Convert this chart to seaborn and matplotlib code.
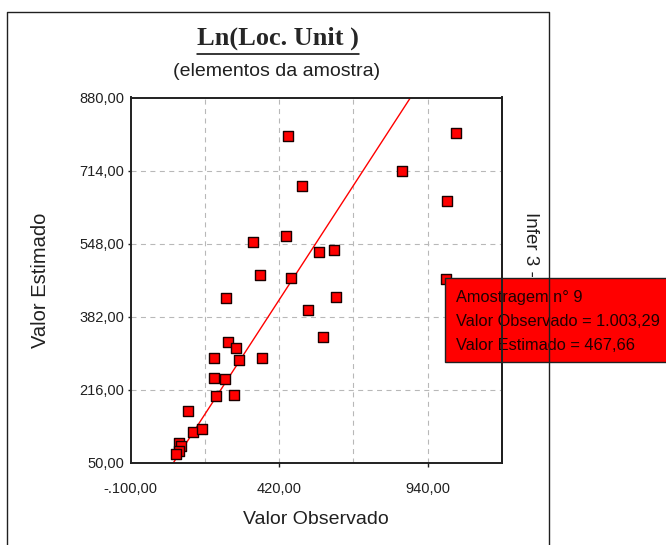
import matplotlib
matplotlib.use("Agg")
import matplotlib.pyplot as plt
from matplotlib.lines import Line2D
from matplotlib.markers import MarkerStyle
from matplotlib.patches import Rectangle
import pandas as pd
import seaborn as sns

# valores (observado x estimado)
observado = [452.7, 1040.6, 849.8, 499.4, 1007.9, 329.7, 443.2, 558.1, 610.8, 353.3,
             463.2, 1003.29, 617.8, 234.9, 521.9, 573.2, 241.9, 267.5, 193.7, 280.5,
             358.9, 193.7, 231.3, 198.7, 263.0, 102.4, 120.0, 151.6, 70.8, 77.8, 69.7, 60.2]
estimado = [791.7, 798.6, 712.6, 678.4, 644.2, 550.7, 566.0, 527.9, 534.1, 476.4,
            469.6, 467.66, 427.6, 424.6, 397.3, 335.0, 325.0, 311.3, 287.2, 284.0,
            287.2, 242.9, 239.3, 201.9, 205.1, 167.7, 119.1, 126.6, 95.6, 87.9, 76.5, 69.0]

x_grid = [160, 420, 680, 940]
x_ticks = [-100, 420, 940]
x_tick_labels = ["-.100,00", "420,00", "940,00"]
y_ticks = [50, 216, 382, 548, 714, 880]
y_tick_labels = ["50,00", "216,00", "382,00", "548,00", "714,00", "880,00"]
linha_ideal = [50, 880]

tooltip = ["Amostragem n\u00b0 9", "Valor Observado = 1.003,29", "Valor Estimado = 467,66"]

sns.set_style("white")
plt.rcParams["font.family"] = ["Liberation Sans", "DejaVu Sans"]

W, H = 666, 545
fig = plt.figure(figsize=(W / 100, H / 100), dpi=100)
ax = fig.add_axes([130.5 / W, 1 - 462.8 / H, 371.5 / W, 365.3 / H])

df = pd.DataFrame({"observado": observado, "estimado": estimado})

# grade tracejada
for gx in x_grid:
    ax.axvline(gx, color="#b8b8b8", lw=0.8, ls=(0, (4.5, 4)), zorder=0)
for gy in y_ticks[1:-1]:
    ax.axhline(gy, color="#b8b8b8", lw=0.8, ls=(0, (4.5, 4)), zorder=0)

sns.lineplot(x=linha_ideal, y=linha_ideal, color="#ff0000", lw=1.0, ax=ax, zorder=2)
sns.scatterplot(data=df, x="observado", y="estimado", ax=ax,
                marker=MarkerStyle("s", joinstyle="round"), s=44,
                color="#ff0000", edgecolor="#1a0000", linewidth=1.0, zorder=3)

ax.set_xlim(-100, 1200)
ax.set_ylim(50, 880)
ax.set_xticks(x_ticks)
ax.set_xticklabels(x_tick_labels, fontsize=10.5, color="#202020")
ax.set_yticks(y_ticks)
ax.set_yticklabels(y_tick_labels, fontsize=10.5, color="#202020")
ax.tick_params(axis="x", length=3, width=1, pad=11, color="#202020", direction="out", bottom=True)
ax.tick_params(axis="y", length=2.5, width=1, pad=2, color="#202020", direction="out", left=True)
# sem marcas nos cantos do eixo
ax.xaxis.get_major_ticks()[0].tick1line.set_visible(False)
ax.yaxis.get_major_ticks()[0].tick1line.set_visible(False)
ax.yaxis.get_major_ticks()[-1].tick1line.set_visible(False)
for sp in ax.spines.values():
    sp.set_visible(True)
    sp.set_color("#202020")
    sp.set_linewidth(1.4)

ax.set_xlabel("Valor Observado", fontsize=14, color="#202020", va="center")
ax.xaxis.set_label_coords(0.5, (462.8 - 520) / 365.3)
ax.set_ylabel("Valor Estimado", fontsize=14.5, color="#202020", va="center",
              rotation_mode="default")
ax.yaxis.set_label_coords((41 - 130.5) / 371.5, 0.5)

# titulo sublinhado
titulo = fig.text(278 / W, 1 - 45 / H, "Ln(Loc. Unit )", ha="center", va="baseline",
                  fontsize=19, fontweight="bold", family=["Liberation Serif", "DejaVu Serif"])
fig.text(276.5 / W, 1 - 71 / H, "(elementos da amostra)", ha="center", va="center",
         fontsize=14, color="#202020")

# texto lateral parcialmente coberto
fig.text(530 / W, 1 - 211.7 / H, "Infer 3 -", rotation=270, ha="center", va="top",
         fontsize=13.5, color="#202020", zorder=3)

# caixa da dica (amostra 9)
fig.add_artist(Rectangle((445 / W, 1 - 361.7 / H), 0.5, 83.4 / H, transform=fig.transFigure,
                         facecolor="#ff0000", edgecolor="#202020", lw=1, zorder=4))
for txt, yc in zip(tooltip, [297.7, 321, 345.7]):
    fig.text(456 / W, 1 - yc / H, txt, ha="left", va="center", fontsize=11.8,
             color="#200000", zorder=5)

# borda do eixo e moldura sobre a dica
fig.add_artist(Line2D([502 / W, 502 / W], [1 - 97.5 / H, 1 - 462.8 / H],
                      transform=fig.transFigure, color="#202020", lw=1.4, zorder=6))
fig.add_artist(Line2D([7 / W, 7 / W, 549 / W, 549 / W], [-0.01, 1 - 12 / H, 1 - 12 / H, -0.01],
                      transform=fig.transFigure, color="#202020", lw=1, zorder=6))

fig.canvas.draw()
bb = titulo.get_window_extent()
y_sub = bb.y0 - 4
fig.add_artist(Line2D([bb.x0 / W, bb.x1 / W], [y_sub / H, y_sub / H],
                      transform=fig.transFigure, color="#000000", lw=1.1, zorder=6))

fig.savefig("out.png", dpi=100)
